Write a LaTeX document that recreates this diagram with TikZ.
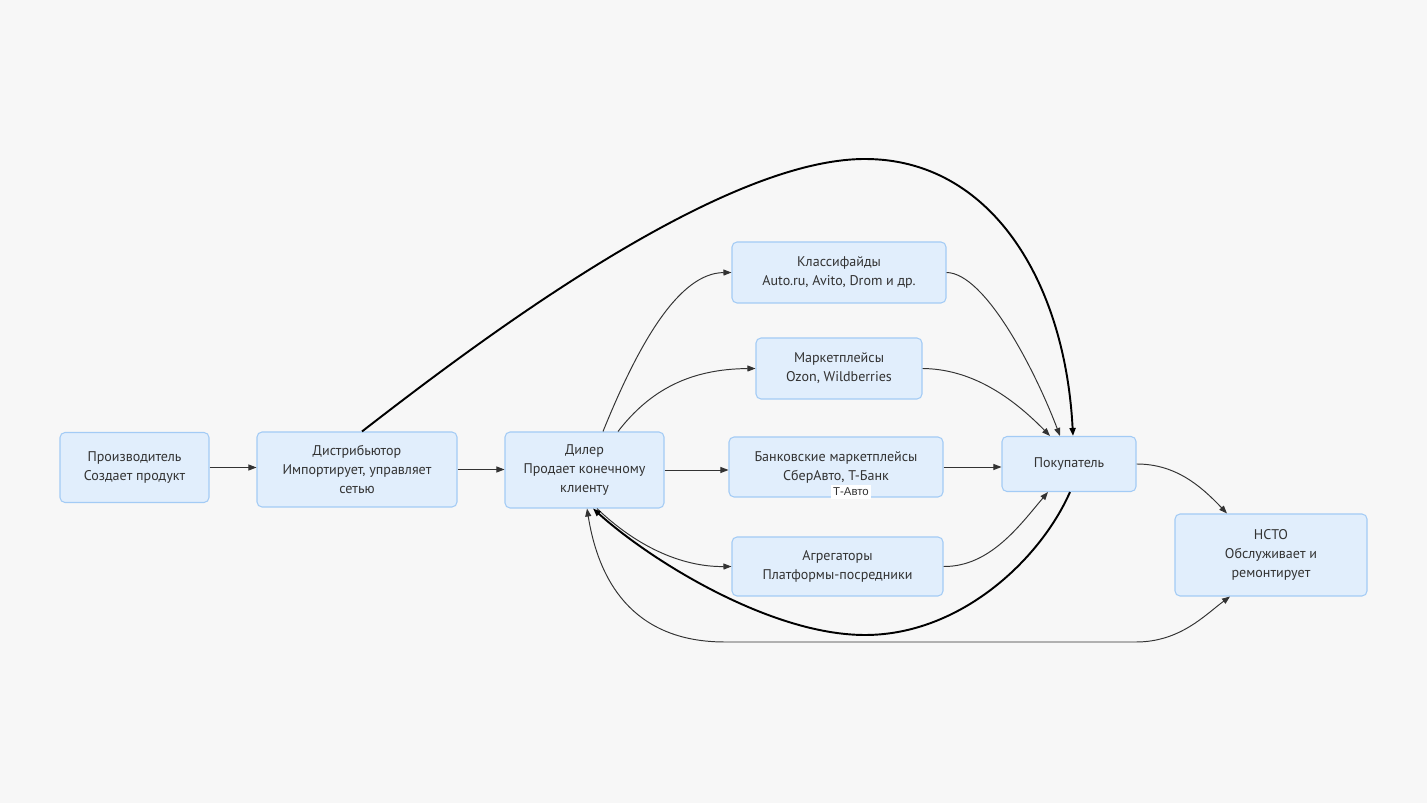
\documentclass[tikz,border=0pt]{standalone}
\usepackage{fontspec}
\setmainfont{PT Sans}
\newfontfamily\labelfont{Liberation Sans}
\usetikzlibrary{arrows.meta,calc}
\definecolor{boxfill}{HTML}{E1EEFC}
\definecolor{boxline}{HTML}{A3CBF5}
\definecolor{paper}{HTML}{F7F7F7}
\definecolor{ink}{HTML}{333333}
\newdimen\px
\px=0.02cm
\tikzstyle{element}=[
  draw=boxline,
  fill=boxfill,
  font={\fontsize{8}{10.8}\selectfont},
  inner sep=0pt,
  line width=0.6pt,
  rectangle,
  rounded corners=5\px,
  align=center,
  text=ink,
]
\tikzstyle{arrow}=[
  ->,
  draw=ink,
  line width=0.55pt,
]
\tikzstyle{thickarrow}=[
  ->,
  draw=black,
  line width=1.1pt,
]
\tikzstyle{arrowlabel}=[
  fill=white,
  text=ink,
  font={\labelfont\fontsize{6.5}{7}\selectfont},
  inner sep=1.5pt,
]
\tikzset{
  >={Triangle[length=0.16cm,width=0.12cm]},
}
\begin{document}
\begin{tikzpicture}[x=0.02cm,y=-0.02cm]
  \fill [paper] (0,0) rectangle (1427,803);
  \useasboundingbox (0,0) rectangle (1427,803);
  %%
  \node (prod) [element, minimum width=149\px, minimum height=70\px] at (134.5,467.5) {Производитель\\Создает продукт};
  \node (dist) [element, minimum width=200\px, minimum height=75\px] at (357,469.5) {Дистрибьютор\\Импортирует, управляет\\сетью};
  \node (dealer) [element, minimum width=159\px, minimum height=76\px] at (584.5,470) {Дилер\\Продает конечному\\клиенту};
  %%
  \node (klass) [element, minimum width=214\px, minimum height=61\px] at (839,272.5) {Классифайды\\Auto.ru, Avito, Drom и др.};
  \node (market) [element, minimum width=166\px, minimum height=61\px] at (839,368.5) {Маркетплейсы\\Ozon, Wildberries};
  \node (bank) [element, minimum width=214\px, minimum height=60\px] at (836,467) {Банковские маркетплейсы\\СберАвто, Т-Банк};
  \node (agg) [element, minimum width=211\px, minimum height=59\px] at (837.5,566.5) {Агрегаторы\\Платформы-посредники};
  \node (tavto) [arrowlabel] at (851,492) {Т-Авто};
  %%
  \node (buyer) [element, minimum width=134\px, minimum height=55\px] at (1069,464) {Покупатель};
  \node (nsto) [element, minimum width=192\px, minimum height=82\px] at (1271,555) {НСТО\\Обслуживает и\\ремонтирует};
  %%
  \draw [arrow] (prod.east) -- (prod.east -| dist.west);
  \draw [arrow] (dist.east) -- (dist.east -| dealer.west);
  \draw [arrow] (dealer.east) -- (dealer.east -| bank.west);
  \draw [arrow] (bank.east) -- (bank.east -| buyer.west);
  %%
  \draw [arrow] ($(dealer.north)+(18.5,0)$) .. controls (640,340) and (680,273) .. (klass.west);
  \draw [arrow] ($(dealer.north)+(33.5,0)$) .. controls (650,390) and (690,369) .. (market.west);
  \draw [arrow] ($(dealer.south)+(12.5,0)$) .. controls (635,545) and (680,567) .. (agg.west);
  \draw [arrow] (klass.east) .. controls (985,273) and (1035,370) .. ($(buyer.north)+(-9,0)$);
  \draw [arrow] (market.east) .. controls (970,369) and (1010,395) .. ($(buyer.north)+(-19,0)$);
  \draw [arrow] (agg.east) .. controls (990,567) and (1020,525) .. ($(buyer.south)+(-21,0)$);
  \draw [arrow] (buyer.east) .. controls (1175,464) and (1200,485) .. ($(nsto.north)+(-44,0)$);
  %%
  \draw [thickarrow] ($(dist.north)+(5,0)$) .. controls (480,340) and (720,159) .. (865,159)
    .. controls (990,159) and (1065,280) .. ($(buyer.north)+(4,0)$);
  \draw [thickarrow] ($(buyer.south)+(1,0)$) .. controls (1040,560) and (960,635) .. (865,635)
    .. controls (770,635) and (650,560) .. ($(dealer.south)+(8.5,0)$);
  \draw [arrow, <->] ($(dealer.south)+(2.5,0)$) .. controls (600,590) and (640,642) .. (725,642)
    -- (1136,642) .. controls (1180,642) and (1205,615) .. ($(nsto.south)+(-41,0)$);
\end{tikzpicture}
\end{document}
